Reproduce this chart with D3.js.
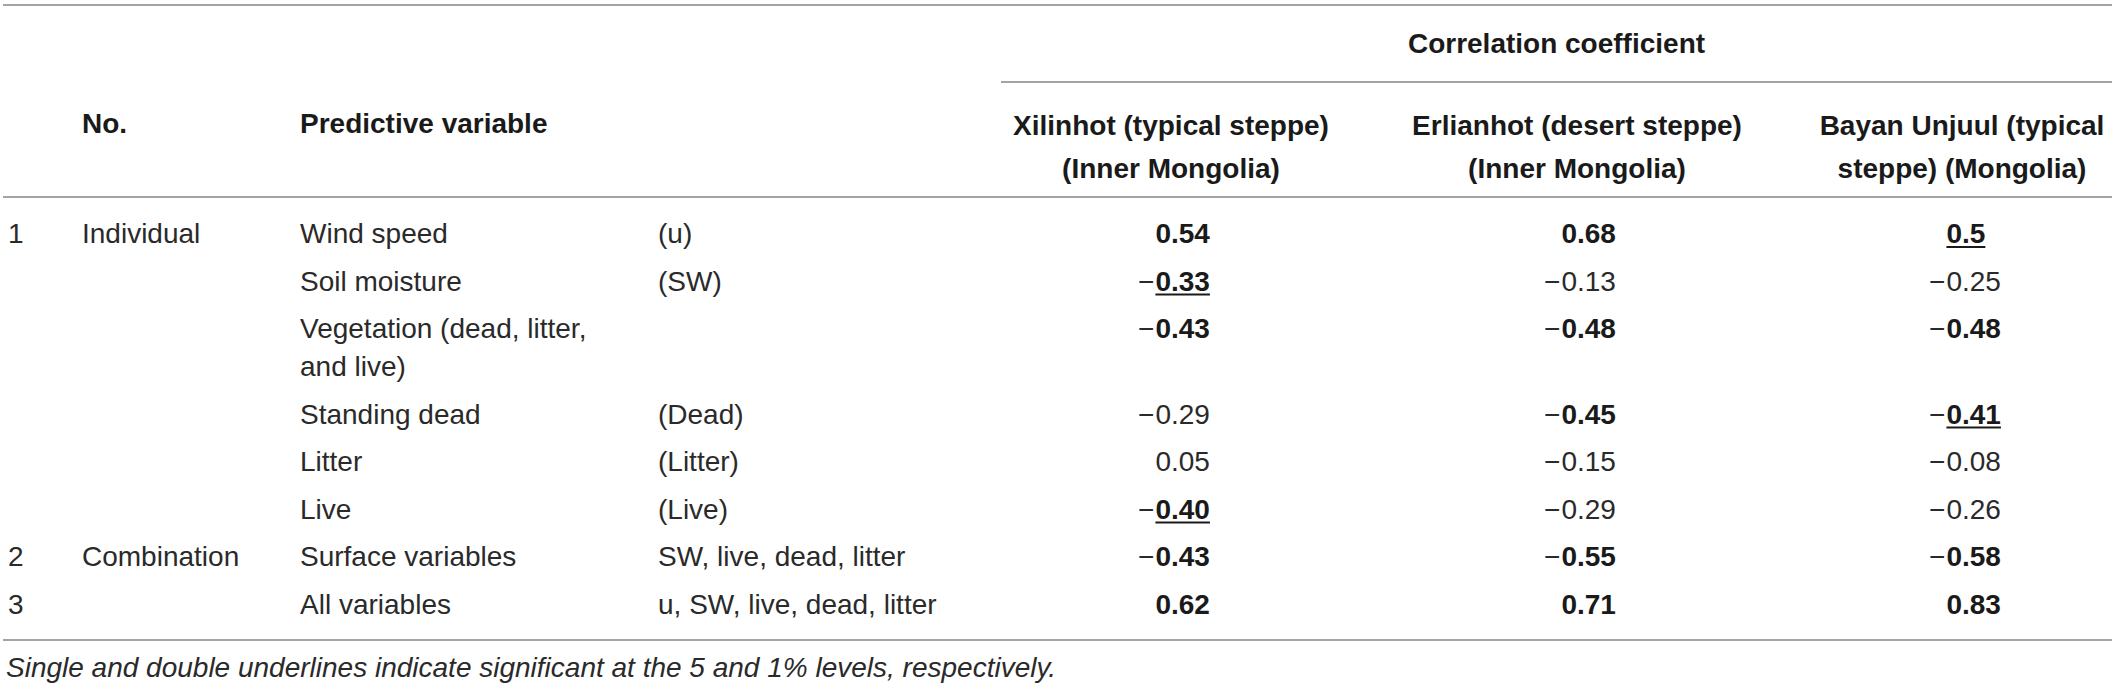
<!DOCTYPE html>
<html>
<head>
<meta charset="utf-8">
<script src="https://cdn.jsdelivr.net/npm/d3@7"></script>
<style>
  body { margin: 0; background: #fff; }
  svg { display: block; font-family: 'Liberation Sans', Arial, Helvetica, sans-serif; font-size: 28px; fill: #2a2a2a; }
  .bold { font-weight: bold; fill: #1a1a1a; }
  .italic { font-style: italic; }
  .rule { stroke: #a3a3a3; stroke-width: 2; }
  .underline { stroke: #1a1a1a; stroke-width: 2; }
</style>
</head>
<body>
<div id="table"></div>
<script>
// Table content, row by row.
var rowNumbers = ['1', '', '', '', '', '', '2', '3'];
var rowGroups = ['Individual', '', '', '', '', '', 'Combination', ''];
var variableNames = [['Wind speed'], ['Soil moisture'], ['Vegetation (dead, litter,', 'and live)'],
  ['Standing dead'], ['Litter'], ['Live'], ['Surface variables'], ['All variables']];
var variableSymbols = ['(u)', '(SW)', '', '(Dead)', '(Litter)', '(Live)',
  'SW, live, dead, litter', 'u, SW, live, dead, litter'];

var headerLabels = ['No.', 'Predictive variable'];
var spanLabel = 'Correlation coefficient';
var siteNames = [['Xilinhot (typical steppe)', '(Inner Mongolia)'],
  ['Erlianhot (desert steppe)', '(Inner Mongolia)'],
  ['Bayan Unjuul (typical', 'steppe) (Mongolia)']];

var xilinhotValues = ['0.54', '-0.33', '-0.43', '-0.29', '0.05', '-0.40', '-0.43', '0.62'];
var erlianhotValues = ['0.68', '-0.13', '-0.48', '-0.45', '-0.15', '-0.29', '-0.55', '0.71'];
var bayanValues = ['0.5', '-0.25', '-0.48', '-0.41', '-0.08', '-0.26', '-0.58', '0.83'];

// b = bold, u = underlined
var xilinhotMarks = ['b', 'bu', 'b', '', '', 'bu', 'b', 'b'];
var erlianhotMarks = ['b', '', 'b', 'b', '', '', 'b', 'b'];
var bayanMarks = ['bu', '', 'b', 'bu', '', '', 'b', 'b'];

var footnote = 'Single and double underlines indicate significant at the 5 and 1% levels, respectively.';


var WIDTH = 2117, HEIGHT = 688;
var EXTRA_LINE = 0.8;   // second text line, in row units

var svg = d3.select('#table').append('svg')
    .attr('width', WIDTH)
    .attr('height', HEIGHT);

// Column positions (numeric columns: where the decimal point sits).
var x = d3.scaleOrdinal()
    .domain(['no', 'group', 'variable', 'symbol', 'site0', 'site1', 'site2'])
    .range([8, 82, 300, 658, 1171, 1577, 1962]);

// Row positions in row units, taller where a label wraps.
var rowPos = [];
var pos = 0;
variableNames.forEach(function(lines) {
  rowPos.push(pos);
  pos += 1 + (lines.length - 1) * EXTRA_LINE;
});
var y = d3.scaleLinear().domain([0, 1]).range([233, 280.5]);

function label(g, text, px, py, anchor, cls) {
  return g.append('text')
      .attr('x', px)
      .attr('y', py)
      .attr('dy', '0.36em')
      .attr('text-anchor', anchor || 'start')
      .attr('class', cls || null)
      .text(text);
}

// Rules.
var rules = svg.append('g');
[[3, 2112, 5], [1001, 2112, 82], [3, 2112, 197], [3, 2112, 640]].forEach(function(r) {
  rules.append('line').attr('class', 'rule')
      .attr('x1', r[0]).attr('x2', r[1]).attr('y1', r[2]).attr('y2', r[2]);
});

// Header.
var header = svg.append('g');
label(header, headerLabels[0], x('group'), 123, 'start', 'bold');
label(header, headerLabels[1], x('variable'), 123, 'start', 'bold');
label(header, spanLabel, (1001 + 2112) / 2, 43, 'middle', 'bold');
siteNames.forEach(function(lines, i) {
  lines.forEach(function(line, j) {
    label(header, line, x('site' + i), 125 + j * 43, 'middle', 'bold');
  });
});

// Body text columns.
var body = svg.append('g');
variableNames.forEach(function(lines, i) {
  var cy = y(rowPos[i]);
  label(body, rowNumbers[i], x('no'), cy);
  label(body, rowGroups[i], x('group'), cy);
  lines.forEach(function(line, j) {
    label(body, line, x('variable'), y(rowPos[i] + j * EXTRA_LINE));
  });
  label(body, variableSymbols[i], x('symbol'), cy);
});

// Numbers, aligned on the decimal point.
function drawValue(g, value, mark, cx, cy) {
  var negative = value.charAt(0) === '-';
  var digits = negative ? value.slice(1) : value;
  var dot = digits.indexOf('.');
  var bold = mark.indexOf('b') >= 0;
  var cls = bold ? 'bold' : null;
  var intText = label(g, digits.slice(0, dot), cx, cy, 'end', cls);
  var fracText = label(g, digits.slice(dot), cx, cy, 'start', cls);
  var intW = intText.node().getComputedTextLength();
  var fracW = fracText.node().getComputedTextLength();
  if (negative) {
    label(g, '\u2212', cx - intW - 1, cy, 'end');
  }
  if (mark.indexOf('u') >= 0) {
    g.append('line').attr('class', 'underline')
        .attr('x1', cx - intW).attr('x2', cx + fracW)
        .attr('y1', cy + 14).attr('y2', cy + 14);
  }
}

[[xilinhotValues, xilinhotMarks], [erlianhotValues, erlianhotMarks], [bayanValues, bayanMarks]]
  .forEach(function(col, c) {
    col[0].forEach(function(v, i) {
      drawValue(body, v, col[1][i], x('site' + c), y(rowPos[i]));
    });
  });

// Footnote.
label(svg, footnote, 6, 667, 'start', 'italic');
</script>
</body>
</html>
